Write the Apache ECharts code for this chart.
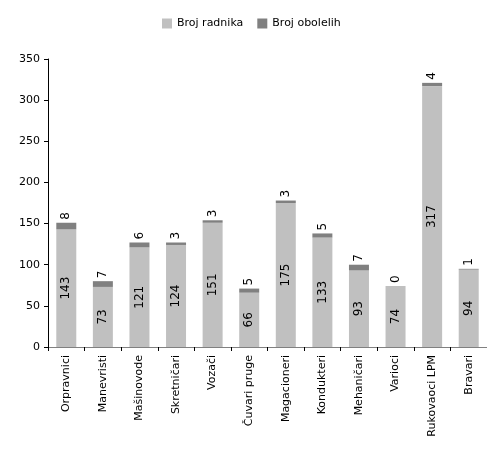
<!DOCTYPE html>
<html lang="en">
<head>
    <meta charset="UTF-8">
    <title>Broj radnika</title>
    <style>
        *{ padding: 0; margin: 0; }
        .EC{ width: 487px; height: 450px; }
    </style>
</head>
<body>
<div class="EC"></div>
<script src="https://cdn.jsdelivr.net/npm/echarts@6/dist/echarts.min.js"></script>
<script>
    const categories = ['Orpravnici', 'Manevristi', 'Mašinovode', 'Skretničari', 'Vozači', 'Čuvari pruge',
        'Magacioneri', 'Kondukteri', 'Mehaničari', 'Varioci', 'Rukovaoci LPM', 'Bravari']
    const radnika = [143, 73, 121, 124, 151, 66, 175, 133, 93, 74, 317, 94]
    const obolelih = [8, 7, 6, 3, 3, 5, 3, 5, 7, 0, 4, 1]
    const yTicks = { min: 0, max: 350, interval: 50 }

    const font = 'DejaVu Sans'
    let EC = echarts.init(document.querySelector('.EC'))
    let option = {
        backgroundColor: '#fff',
        animation: false,
        textStyle: { fontFamily: font },
        legend: {
            left: 157,
            top: 13,
            itemWidth: 10,
            itemHeight: 10,
            itemGap: 14,
            icon: 'rect',
            textStyle: { fontFamily: font, fontSize: 11, color: '#000' },
            data: ['Broj radnika', 'Broj obolelih']
        },
        grid: {
            left: 48,
            top: 59,
            width: 446,
            bottom: 103
        },
        xAxis: {
            type: 'category',
            data: categories,
            axisLine: { lineStyle: { color: '#808080', width: 1 } },
            axisTick: { show: true, alignWithLabel: false, interval: 0, length: 4, lineStyle: { color: '#000' } },
            axisLabel: { interval: 0, rotate: 90, color: '#000', fontSize: 11, fontFamily: font, margin: 8 }
        },
        yAxis: {
            type: 'value',
            min: yTicks.min,
            max: yTicks.max,
            interval: yTicks.interval,
            splitLine: { show: false },
            axisLine: { show: true, lineStyle: { color: '#000' } },
            axisTick: { show: true, length: 4, lineStyle: { color: '#000' } },
            axisLabel: { color: '#000', fontSize: 11, fontFamily: font, margin: 8 }
        },
        series: [{
            name: 'Broj radnika',
            type: 'bar',
            stack: 'a',
            barWidth: 20,
            itemStyle: { color: '#c0c0c0' },
            label: {
                show: true,
                position: 'inside',
                rotate: 90,
                color: '#000',
                fontSize: 12,
                fontFamily: font
            },
            data: radnika
        }, {
            name: 'Broj obolelih',
            type: 'bar',
            stack: 'a',
            barWidth: 20,
            itemStyle: { color: '#808080' },
            label: {
                show: true,
                position: 'top',
                rotate: 90,
                align: 'left',
                verticalAlign: 'middle',
                distance: 3,
                color: '#000',
                fontSize: 12,
                fontFamily: font
            },
            data: obolelih
        }]
    }
    EC.setOption(option)
</script>
</body>
</html>
